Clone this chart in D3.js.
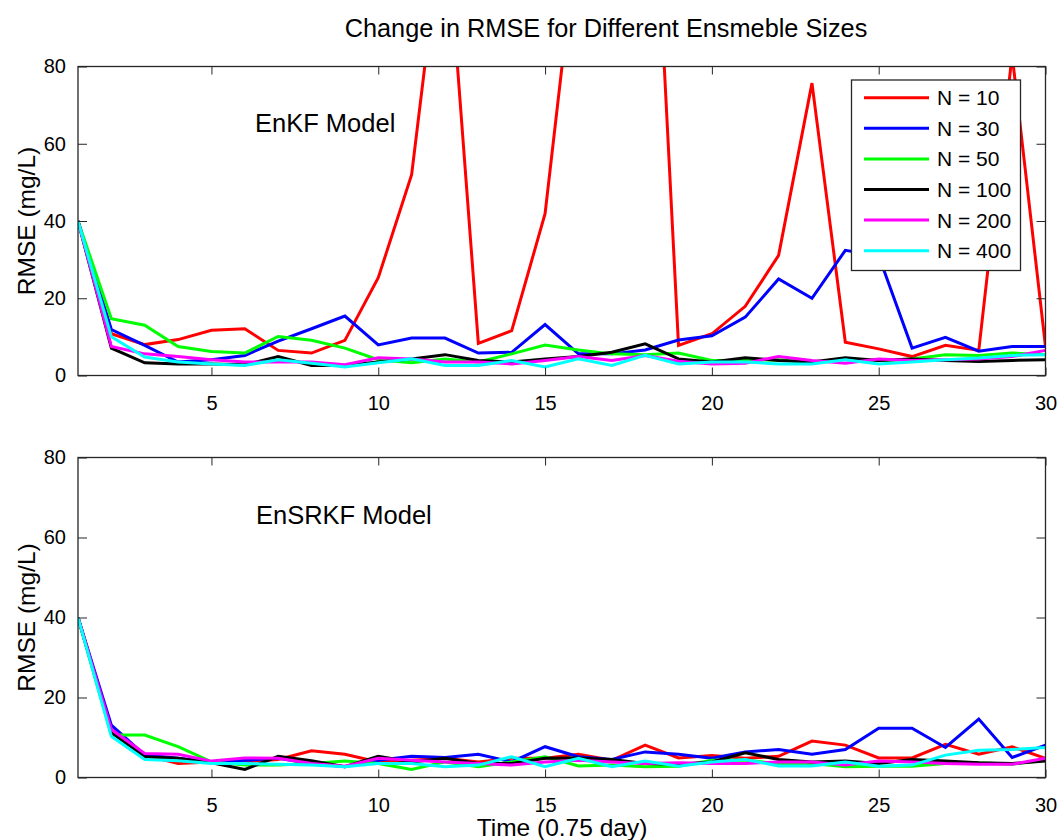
<!DOCTYPE html>
<html><head><meta charset="utf-8">
<script src="https://cdn.jsdelivr.net/npm/d3@7"></script>
<style>
html,body{margin:0;padding:0;background:#fff;}
text{font-family:"Liberation Sans",Arial,sans-serif;fill:#000;}
</style></head>
<body>
<svg id="chart" width="1058" height="840"></svg>
<script>
const time = [1,2,3,4,5,6,7,8,9,10,11,12,13,14,15,16,17,18,19,20,21,22,23,24,25,26,27,28,29,30];
const seriesNames = ["N = 10","N = 30","N = 50","N = 100","N = 200","N = 400"];
const seriesColors = ["#ff0000","#0000ff","#00ff00","#000000","#ff00ff","#00ffff"];
const xTicks = [5,10,15,20,25,30];
const yTicks = [0,20,40,60,80];

// EnKF model (top panel)
const enkfN10  = [40,10.8,8.0,9.3,11.7,12.1,6.5,5.8,9.1,25.3,52,123,8.3,11.6,41.9,117,150,177,7.8,10.8,17.9,31.1,75.7,8.6,6.9,4.9,7.8,6.5,83,7.5];
const enkfN30  = [40,11.9,7.8,3.5,4.1,5.2,8.9,12.1,15.4,7.9,9.7,9.7,5.8,6.0,13.2,5.6,5.6,6.6,9.2,10.3,15.1,25.0,20.0,32.4,31,7.1,9.9,6.3,7.5,7.5];
const enkfN50  = [40,14.7,13.0,7.5,6.2,5.8,10.1,9.1,7.1,4.1,3.3,4.3,3.5,5.6,7.9,6.6,5.6,5.4,5.8,3.9,3.9,4.1,3.5,4.3,3.9,4.3,5.4,5.2,5.8,5.4];
const enkfN100 = [40,7.1,3.3,3.0,3.0,2.8,4.9,2.6,2.6,3.5,4.3,5.4,3.9,3.5,4.3,4.9,6.0,8.2,4.3,3.5,4.6,3.9,3.5,4.6,3.9,4.3,3.9,3.6,3.9,4.1];
const enkfN200 = [40,7.5,5.6,4.9,4.1,3.5,3.5,3.5,2.8,4.6,4.3,3.5,3.5,3.0,3.9,4.9,3.9,5.2,3.7,3.0,3.2,4.9,3.9,3.2,4.3,3.9,4.1,4.3,4.9,6.5];
const enkfN400 = [40,10.0,4.8,3.5,3.0,2.6,4.1,3.2,2.2,3.3,4.3,2.6,2.6,3.9,2.2,4.3,2.6,5.2,3.0,3.5,3.5,3.0,3.0,4.1,3.0,3.5,4.1,4.5,5.2,5.4];

// EnSRKF model (bottom panel)
const ensrkfN10  = [40,11.8,5.6,3.5,3.9,3.9,4.5,6.7,5.8,3.9,4.3,4.8,3.9,4.8,4.8,5.8,4.3,8.1,4.9,5.5,4.8,5.3,9.1,8.1,4.9,4.9,8.3,5.8,7.7,4.8];
const ensrkfN30  = [40,13.1,5.6,4.8,3.9,4.3,4.8,3.5,2.7,4.3,5.3,5.0,5.8,3.9,7.7,5.2,4.5,6.4,5.8,4.8,6.4,7.0,5.8,7.0,12.3,12.3,7.5,14.6,5.0,8.1];
const ensrkfN50  = [40,10.6,10.6,7.7,3.9,3.1,3.1,3.5,4.1,3.5,2.0,3.9,2.7,3.9,5.2,2.9,3.1,2.7,2.8,4.3,4.3,3.5,3.5,2.7,2.8,2.8,3.5,3.7,3.3,4.3];
const ensrkfN100 = [40,11.2,5.2,4.8,3.7,2.0,5.3,4.2,2.7,5.3,3.9,4.8,3.5,3.5,4.8,4.9,4.5,3.5,3.3,3.9,6.2,4.5,3.9,4.1,3.5,4.5,4.1,3.7,3.5,4.1];
const ensrkfN200 = [40,12.0,6.0,5.8,4.1,4.9,4.8,3.5,2.8,4.8,4.3,3.9,3.5,3.1,3.9,4.3,3.9,3.5,3.7,3.5,3.5,3.9,3.9,3.1,4.1,3.9,3.5,3.3,3.3,4.8];
const ensrkfN400 = [40,10.3,4.5,4.2,3.5,3.5,3.3,3.1,2.7,3.5,3.5,2.7,3.1,5.2,2.7,4.8,2.7,4.1,2.8,3.9,4.5,2.9,2.9,3.9,2.8,3.1,5.6,6.8,7.0,7.5];

const panels = [
  {label:"EnKF Model", series:[enkfN10,enkfN30,enkfN50,enkfN100,enkfN200,enkfN400], top:66.5, bottom:375.5, legend:true},
  {label:"EnSRKF Model", series:[ensrkfN10,ensrkfN30,ensrkfN50,ensrkfN100,ensrkfN200,ensrkfN400], top:457.5, bottom:777.5, legend:false}
];

const svg = d3.select("#chart");
svg.append("rect").attr("width",1058).attr("height",840).attr("fill","#fff");
const left = 78, right = 1045.5;
const x = d3.scaleLinear().domain([1,30]).range([left,right]);
const axisColor = "#262626";

svg.append("text").attr("x",606).attr("y",37).attr("text-anchor","middle")
  .style("font-size","25.3px").text("Change in RMSE for Different Ensmeble Sizes");

panels.forEach((p,pi)=>{
  const y = d3.scaleLinear().domain([0,80]).range([p.bottom,p.top]);
  const g = svg.append("g");
  const clipId = "clip"+pi;
  svg.append("clipPath").attr("id",clipId).append("rect")
    .attr("x",left).attr("y",p.top).attr("width",right-left).attr("height",p.bottom-p.top);

  const line = d3.line().x((d,i)=>x(time[i])).y(d=>y(d));
  const lg = g.append("g").attr("clip-path",`url(#${clipId})`);
  p.series.forEach((s,si)=>{
    lg.append("path").datum(s).attr("d",line).attr("fill","none")
      .attr("stroke",seriesColors[si]).attr("stroke-width",3).attr("stroke-linejoin","miter");
  });

  // axes (MATLAB style: ticks inside, on all four sides)
  const tickLenX = 8, tickLenY = 9;
  const bottomAxis = d3.axisBottom(x).tickValues(xTicks).tickSize(-tickLenX).tickPadding(tickLenX+12).tickFormat(d3.format("d"));
  const gx = g.append("g").attr("transform",`translate(0,${p.bottom})`).call(bottomAxis);
  gx.select(".domain").remove();
  gx.selectAll("line").attr("stroke",axisColor);
  gx.selectAll("text").style("font-size","20px").attr("fill","#000");

  const topAxis = d3.axisTop(x).tickValues(xTicks).tickSize(-tickLenX).tickFormat("");
  const gxt = g.append("g").attr("transform",`translate(0,${p.top})`).call(topAxis);
  gxt.select(".domain").remove();
  gxt.selectAll("line").attr("stroke",axisColor);

  const leftAxis = d3.axisLeft(y).tickValues(yTicks).tickSize(-tickLenY).tickPadding(tickLenY+3).tickFormat(d3.format("d"));
  const gy = g.append("g").attr("transform",`translate(${left},0)`).call(leftAxis);
  gy.select(".domain").remove();
  gy.selectAll("line").attr("stroke",axisColor);
  gy.selectAll("text").style("font-size","20px").attr("fill","#000");

  const rightAxis = d3.axisRight(y).tickValues(yTicks).tickSize(-tickLenY).tickFormat("");
  const gyr = g.append("g").attr("transform",`translate(${right},0)`).call(rightAxis);
  gyr.select(".domain").remove();
  gyr.selectAll("line").attr("stroke",axisColor);

  g.append("rect").attr("x",left).attr("y",p.top).attr("width",right-left).attr("height",p.bottom-p.top)
    .attr("fill","none").attr("stroke",axisColor).attr("stroke-width",1.3);

  // y label
  const cy = (p.top+p.bottom)/2;
  g.append("text").attr("transform",`translate(26,${cy}) rotate(-90)`).attr("text-anchor","middle")
    .attr("dominant-baseline","central").style("font-size","24.5px").text("RMSE (mg/L)");

  // panel annotation
  g.append("text").attr("x", pi===0?255:256).attr("y", pi===0?132:524).style("font-size","25.5px").text(p.label);

  if(p.legend){
    const lx = 851.5, ly = 80, lw = 169, lh = 190.5;
    const leg = g.append("g");
    leg.append("rect").attr("x",lx).attr("y",ly).attr("width",lw).attr("height",lh)
      .attr("fill","#fff").attr("stroke",axisColor).attr("stroke-width",1.3);
    const rowY = d3.scaleLinear().domain([0,5]).range([97.7,250.7]);
    seriesNames.forEach((n,i)=>{
      leg.append("line").attr("x1",864).attr("x2",929).attr("y1",rowY(i)).attr("y2",rowY(i))
        .attr("stroke",seriesColors[i]).attr("stroke-width",3);
      leg.append("text").attr("x",937).attr("y",rowY(i)).attr("dy","0.36em")
        .style("font-size","21px").text(n);
    });
  }
});

svg.append("text").attr("x",562).attr("y",836).attr("text-anchor","middle")
  .style("font-size","24.5px").text("Time (0.75 day)");
</script>
</body></html>
